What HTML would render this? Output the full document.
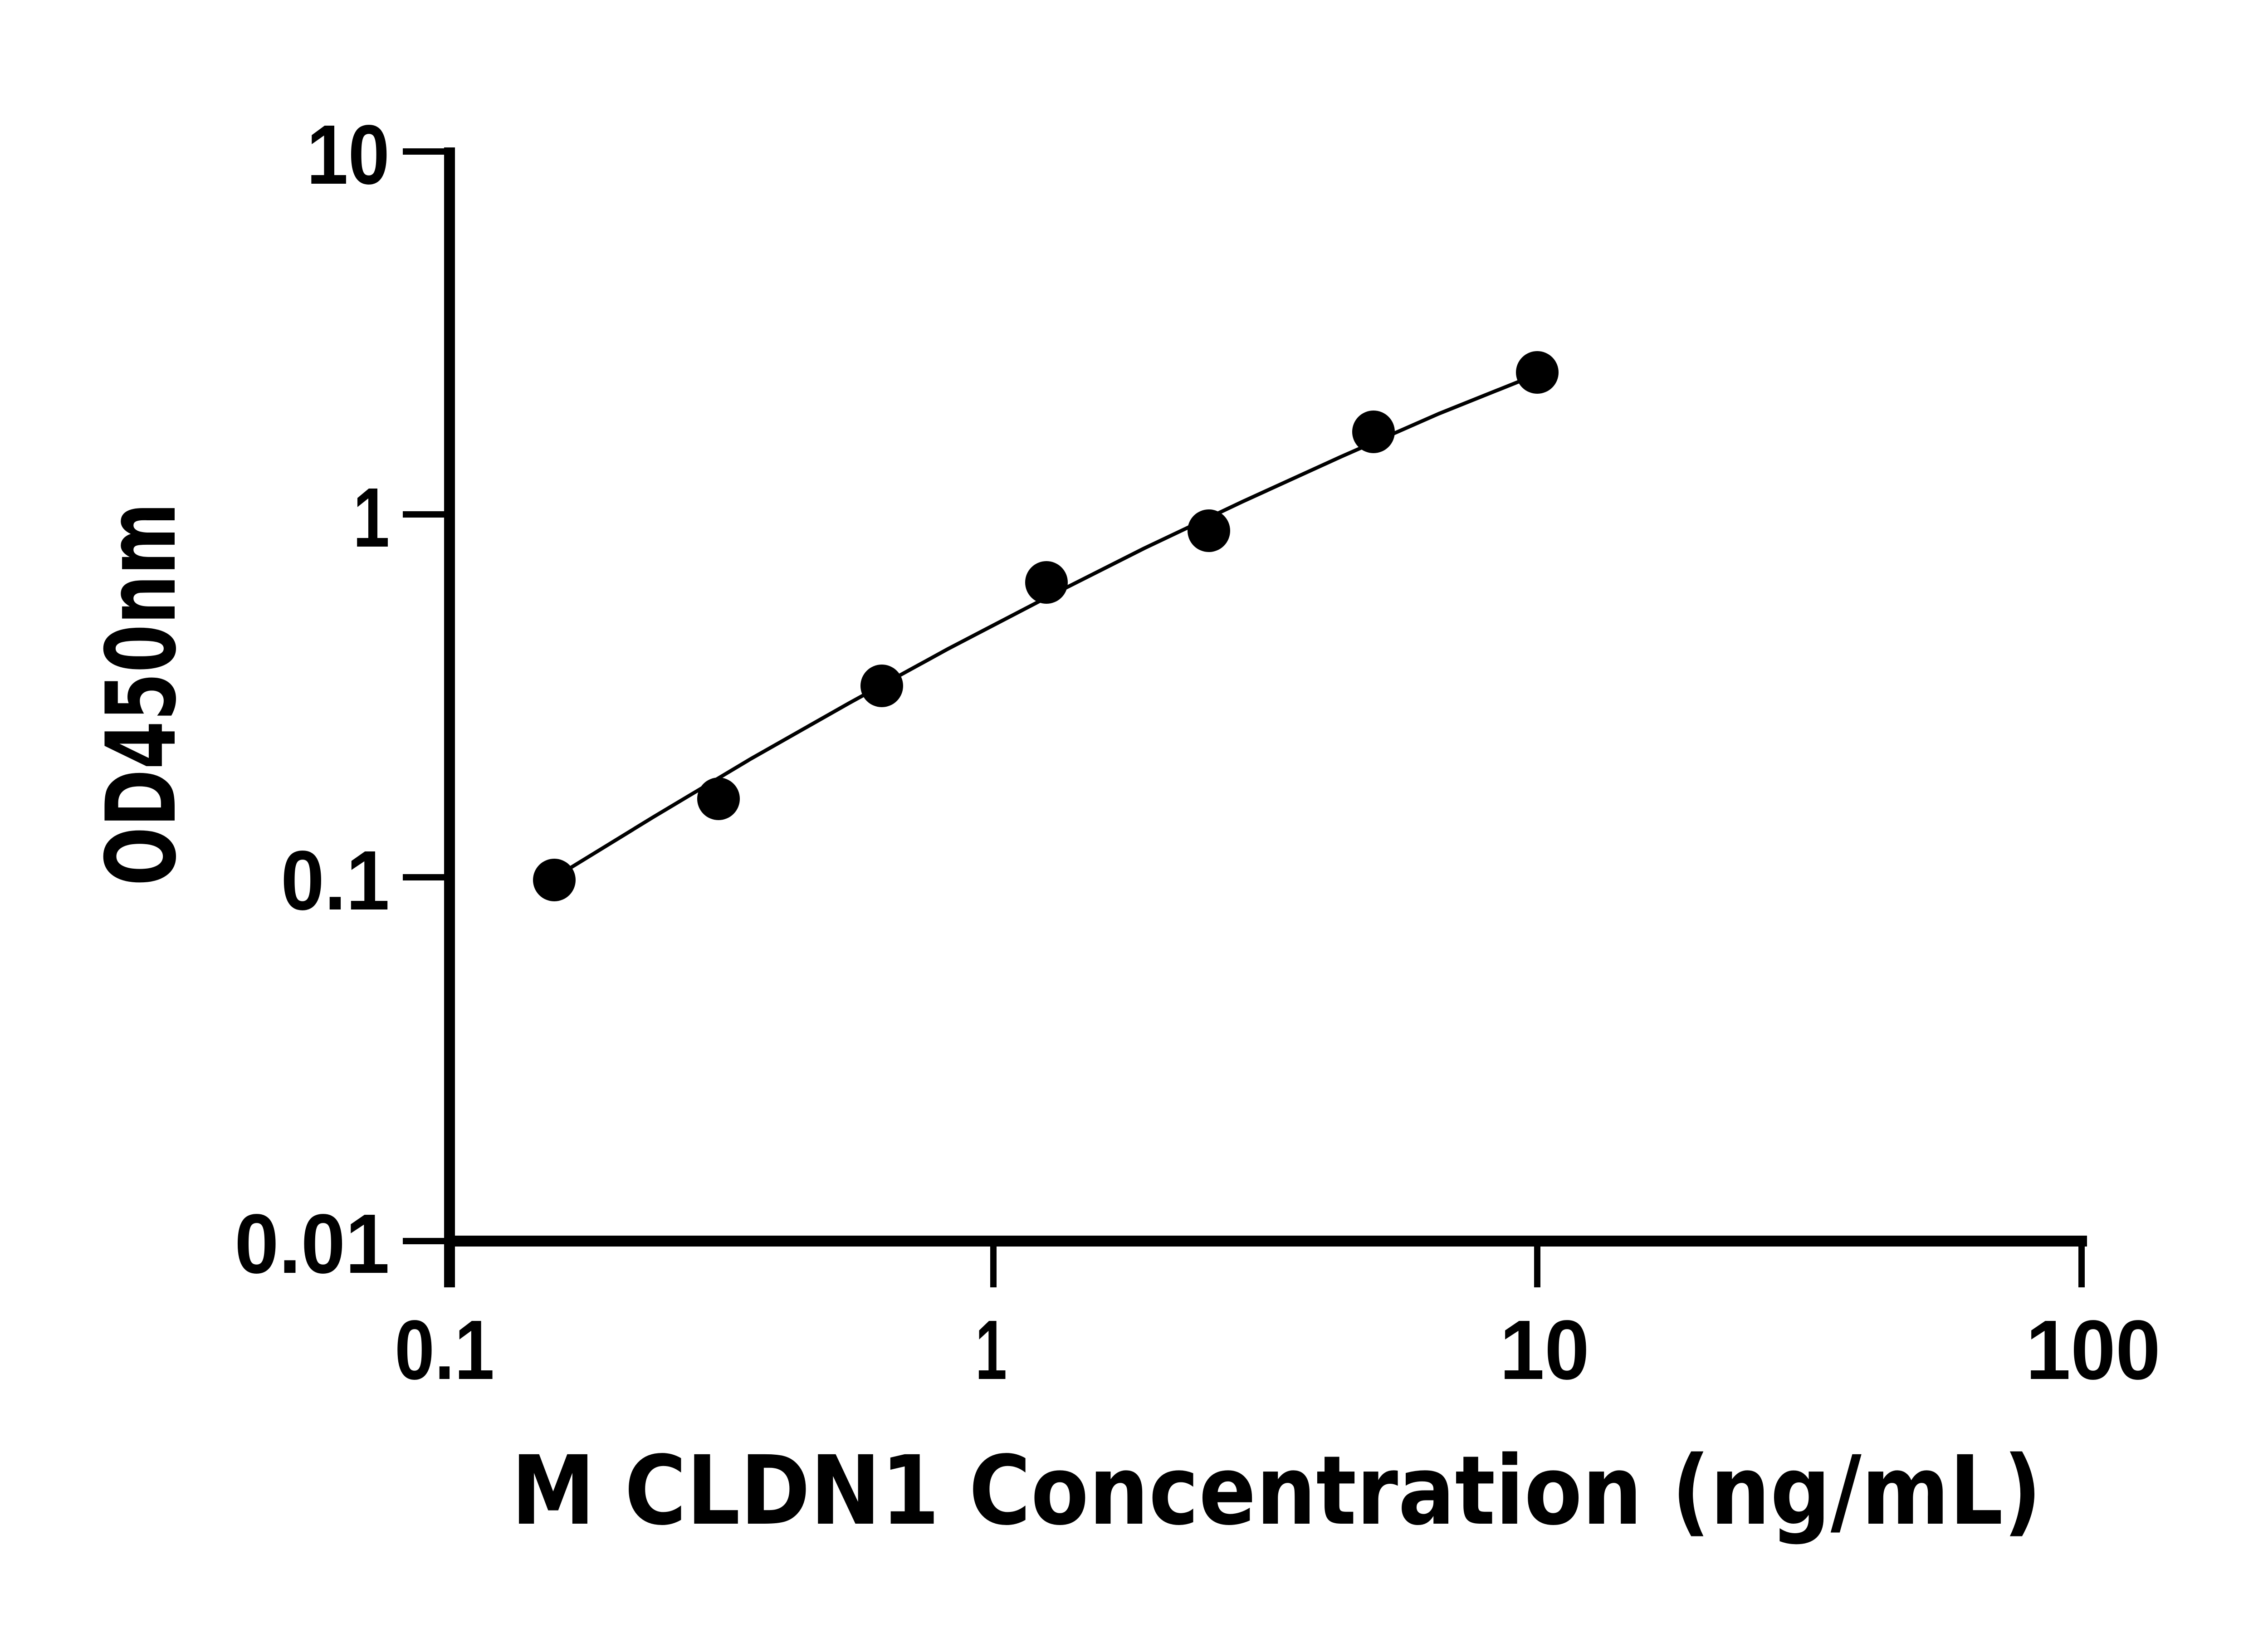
<!DOCTYPE html>
<html><head><meta charset="utf-8"><style>html,body{margin:0;padding:0;background:#fff}svg{display:block}</style></head>
<body>
<svg width="5142" height="3600" viewBox="0 0 5142 3600" xmlns="http://www.w3.org/2000/svg">
<rect width="5142" height="3600" fill="#fff"/>
<g stroke="#000" fill="none">
<line x1="991" y1="325" x2="991" y2="2838" stroke-width="24"/>
<line x1="979" y1="2736" x2="4601" y2="2736" stroke-width="24"/>
<g stroke-width="14">
<line x1="888" y1="334" x2="991" y2="334"/>
<line x1="888" y1="1134" x2="991" y2="1134"/>
<line x1="888" y1="1934" x2="991" y2="1934"/>
<line x1="888" y1="2736" x2="991" y2="2736"/>
<line x1="2190" y1="2736" x2="2190" y2="2838"/>
<line x1="3389" y1="2736" x2="3389" y2="2838"/>
<line x1="4589" y1="2736" x2="4589" y2="2838"/>
</g>
<polyline points="1222,1935 1439,1802 1655,1673 1872,1550 2089,1431 2306,1318 2522,1209 2739,1106 2956,1007 3172,912 3389,825" stroke-width="8" stroke-linejoin="round"/>
</g>
<g fill="#000">
<circle cx="1222" cy="1940" r="47"/>
<circle cx="1584" cy="1761" r="47"/>
<circle cx="1944" cy="1512" r="47"/>
<circle cx="2307" cy="1284" r="47"/>
<circle cx="2665" cy="1170" r="47"/>
<circle cx="3028" cy="952" r="47"/>
<circle cx="3389" cy="821" r="47"/>
</g>
<g font-family="Liberation Sans, Arial, sans-serif" font-weight="bold" fill="#000" font-size="186">
<text x="676" y="405" textLength="183" lengthAdjust="spacingAndGlyphs">10</text>
<text x="778" y="1205" textLength="81" lengthAdjust="spacingAndGlyphs">1</text>
<text x="619" y="2005" textLength="240" lengthAdjust="spacingAndGlyphs">0.1</text>
<text x="517" y="2806" textLength="342" lengthAdjust="spacingAndGlyphs">0.01</text>
<text x="870" y="3040" textLength="220" lengthAdjust="spacingAndGlyphs">0.1</text>
<text x="2150" y="3040" textLength="70" lengthAdjust="spacingAndGlyphs">1</text>
<text x="3306" y="3040" textLength="198" lengthAdjust="spacingAndGlyphs">10</text>
<text x="4466" y="3040" textLength="297" lengthAdjust="spacingAndGlyphs">100</text>
</g>
<g font-family="DejaVu Sans, Liberation Sans, sans-serif" font-weight="bold" fill="#000">
<text x="1127" y="3359" font-size="210" textLength="3374" lengthAdjust="spacingAndGlyphs">M CLDN1 Concentration (ng/mL)</text>
<text transform="translate(385,1953) rotate(-90)" x="0" y="0" font-size="212" textLength="845" lengthAdjust="spacingAndGlyphs">OD450nm</text>
</g>
</svg>
</body></html>
